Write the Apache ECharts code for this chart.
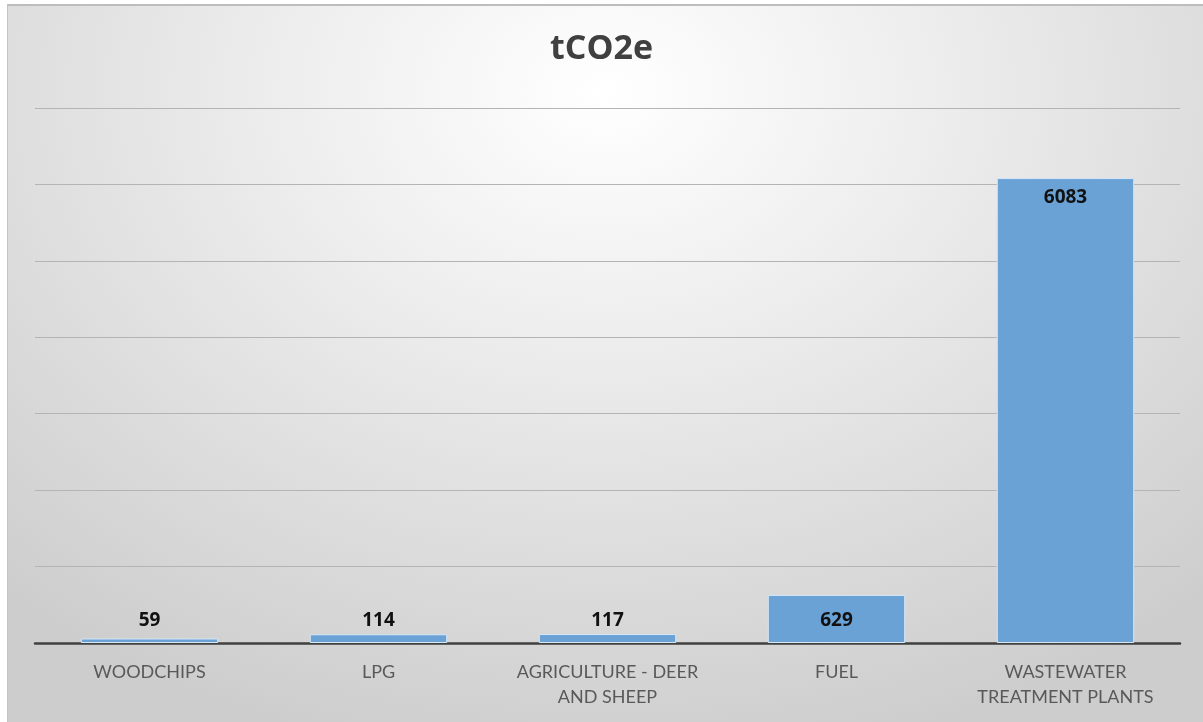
<!DOCTYPE html>
<html>
<head>
<meta charset="utf-8">
<script src="https://cdn.jsdelivr.net/npm/echarts@6/dist/echarts.min.js"></script>
<style>
  html, body { margin: 0; padding: 0; background: #ffffff; }
  #frame {
    position: absolute; left: 7px; top: 4px; width: 1196px; height: 718px;
    box-sizing: border-box;
    border-top: 2px solid #bdbdbd; border-left: 1px solid #c4c4c4;
    background: radial-gradient(ellipse 75% 95% at 50% 12%, #ffffff 0%, #eeeeee 35%, #dcdcdc 70%, #cdcdcd 100%);
  }
  #chart { position: absolute; left: 0; top: 0; width: 1203px; height: 722px; }
</style>
</head>
<body>
<div id="frame"></div>
<div id="chart"></div>
<script>
// Emissions by source, tonnes CO2-equivalent
const categories = ['WOODCHIPS', 'LPG', 'AGRICULTURE - DEER\nAND SHEEP', 'FUEL', 'WASTEWATER\nTREATMENT PLANTS'];
const emissions = [59, 114, 117, 629, 6083];
const labelPositions = ['insideBottom', 'insideBottom', 'insideBottom', 'insideBottom', 'insideTop'];

const chart = echarts.init(document.getElementById('chart'), null, { renderer: 'canvas' });

const seriesData = emissions.map((v, i) => ({
  value: v,
  label: labelPositions[i] === 'insideTop'
    ? { position: 'insideTop', distance: 10 }
    : { position: 'insideBottom', distance: 13 }
}));

chart.setOption({
  backgroundColor: 'transparent',
  animation: false,
  title: {
    text: 'tCO2e',
    left: 'center',
    top: 27,
    textStyle: { fontFamily: 'Open Sans', fontWeight: 'bold', fontSize: 34, color: '#404040' }
  },
  grid: { left: 35, right: 23, top: 108, bottom: 79, containLabel: false },
  xAxis: {
    type: 'category',
    data: categories,
    axisLine: { show: true, lineStyle: { color: '#404040', width: 2.5 } },
    axisTick: { show: false },
    axisLabel: {
      interval: 0,
      hideOverlap: false,
      color: '#595959', fontFamily: 'Lato', fontSize: 18, lineHeight: 25, margin: 17
    }
  },
  yAxis: {
    type: 'value',
    min: 0, max: 7000, interval: 1000,
    axisLabel: { show: false },
    axisLine: { show: false },
    axisTick: { show: false },
    splitLine: { lineStyle: { color: '#b4b4b4', width: 1.2 } }
  },
  series: [{
    type: 'bar',
    data: seriesData,
    barWidth: '60%',
    itemStyle: { color: '#6aa2d6', borderColor: '#d6e7f6', borderWidth: 1 },
    label: {
      show: true,
      color: '#111111',
      fontFamily: 'Open Sans',
      fontWeight: 'bold',
      fontSize: 19
    }
  }]
});
</script>
</body>
</html>
